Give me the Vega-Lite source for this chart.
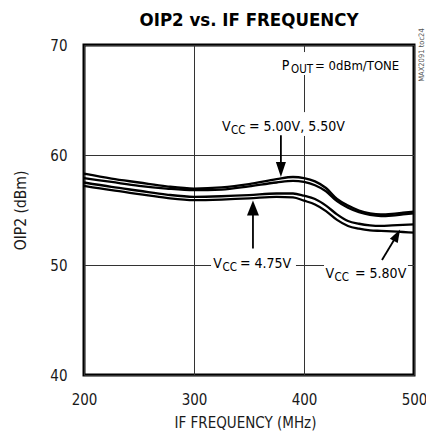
{
  "$schema": "https://vega.github.io/schema/vega-lite/v6.json",
  "width": 330,
  "height": 330,
  "autosize": "none",
  "padding": {"left": 84, "top": 45, "right": 12, "bottom": 62},
  "config": {
    "view": {"stroke": "black", "strokeWidth": 3},
    "axis": {"grid": true, "gridColor": "#333", "gridWidth": 1, "domain": false, "ticks": false, "tickSize": 0, "labelPadding": 17, "labelFontSize": 15, "labelFont": "DejaVu Sans Condensed, sans-serif", "labelColor": "#1a1a1a", "labelFlush": false, "titleFont": "DejaVu Sans Condensed, sans-serif", "titleFontSize": 15, "titleFontWeight": "normal", "titleColor": "#1a1a1a"}
  },
  "datasets": {
    "curves": [
      {"f":200,"v":58.3,"s":"5.50V"},{"f":225,"v":57.85,"s":"5.50V"},{"f":250,"v":57.5,"s":"5.50V"},{"f":275,"v":57.15,"s":"5.50V"},{"f":300,"v":56.95,"s":"5.50V"},{"f":325,"v":57.05,"s":"5.50V"},{"f":350,"v":57.35,"s":"5.50V"},{"f":375,"v":57.8,"s":"5.50V"},{"f":390,"v":58.0,"s":"5.50V"},{"f":400,"v":57.9,"s":"5.50V"},{"f":410,"v":57.6,"s":"5.50V"},{"f":420,"v":57.0,"s":"5.50V"},{"f":430,"v":56.0,"s":"5.50V"},{"f":440,"v":55.4,"s":"5.50V"},{"f":450,"v":54.95,"s":"5.50V"},{"f":460,"v":54.7,"s":"5.50V"},{"f":470,"v":54.6,"s":"5.50V"},{"f":480,"v":54.65,"s":"5.50V"},{"f":490,"v":54.75,"s":"5.50V"},{"f":500,"v":54.85,"s":"5.50V"},
      {"f":200,"v":57.9,"s":"5.00V"},{"f":225,"v":57.55,"s":"5.00V"},{"f":250,"v":57.2,"s":"5.00V"},{"f":275,"v":56.95,"s":"5.00V"},{"f":300,"v":56.8,"s":"5.00V"},{"f":325,"v":56.85,"s":"5.00V"},{"f":350,"v":57.15,"s":"5.00V"},{"f":375,"v":57.5,"s":"5.00V"},{"f":390,"v":57.65,"s":"5.00V"},{"f":400,"v":57.55,"s":"5.00V"},{"f":410,"v":57.25,"s":"5.00V"},{"f":420,"v":56.7,"s":"5.00V"},{"f":430,"v":55.8,"s":"5.00V"},{"f":440,"v":55.2,"s":"5.00V"},{"f":450,"v":54.8,"s":"5.00V"},{"f":460,"v":54.55,"s":"5.00V"},{"f":470,"v":54.45,"s":"5.00V"},{"f":480,"v":54.5,"s":"5.00V"},{"f":490,"v":54.6,"s":"5.00V"},{"f":500,"v":54.7,"s":"5.00V"},
      {"f":200,"v":57.5,"s":"4.75V"},{"f":225,"v":57.1,"s":"4.75V"},{"f":250,"v":56.75,"s":"4.75V"},{"f":275,"v":56.4,"s":"4.75V"},{"f":300,"v":56.2,"s":"4.75V"},{"f":325,"v":56.25,"s":"4.75V"},{"f":350,"v":56.35,"s":"4.75V"},{"f":375,"v":56.5,"s":"4.75V"},{"f":390,"v":56.5,"s":"4.75V"},{"f":400,"v":56.3,"s":"4.75V"},{"f":410,"v":56.0,"s":"4.75V"},{"f":420,"v":55.4,"s":"4.75V"},{"f":430,"v":54.6,"s":"4.75V"},{"f":440,"v":54.0,"s":"4.75V"},{"f":450,"v":53.75,"s":"4.75V"},{"f":460,"v":53.6,"s":"4.75V"},{"f":470,"v":53.55,"s":"4.75V"},{"f":480,"v":53.6,"s":"4.75V"},{"f":490,"v":53.65,"s":"4.75V"},{"f":500,"v":53.7,"s":"4.75V"},
      {"f":200,"v":57.2,"s":"5.80V"},{"f":225,"v":56.8,"s":"5.80V"},{"f":250,"v":56.45,"s":"5.80V"},{"f":275,"v":56.1,"s":"5.80V"},{"f":300,"v":55.9,"s":"5.80V"},{"f":325,"v":55.95,"s":"5.80V"},{"f":350,"v":56.05,"s":"5.80V"},{"f":375,"v":56.2,"s":"5.80V"},{"f":390,"v":56.15,"s":"5.80V"},{"f":400,"v":55.85,"s":"5.80V"},{"f":410,"v":55.5,"s":"5.80V"},{"f":420,"v":54.9,"s":"5.80V"},{"f":430,"v":54.1,"s":"5.80V"},{"f":440,"v":53.55,"s":"5.80V"},{"f":450,"v":53.3,"s":"5.80V"},{"f":460,"v":53.15,"s":"5.80V"},{"f":470,"v":53.1,"s":"5.80V"},{"f":480,"v":53.05,"s":"5.80V"},{"f":490,"v":53.0,"s":"5.80V"},{"f":500,"v":52.95,"s":"5.80V"}
    ],
    "masks": [
      {"f":396.4,"f2":403.6,"v":67.27,"v2":69.36},
      {"f":396.4,"f2":403.6,"v":61.73,"v2":63.9},
      {"f":315.5,"f2":392.7,"v":49.73,"v2":50.27},
      {"f":418.2,"f2":494.5,"v":49.73,"v2":50.27}
    ],
    "shafts": [
      {"f":379,"v":61.8,"f2":379,"v2":58.9},
      {"f":353.6,"v":51.5,"f2":353.6,"v2":54.6},
      {"f":470.9,"v":50.45,"f2":483.2,"v2":52.5}
    ],
    "heads": [
      {"f":379,"v":58.68,"h":"down"},
      {"f":353.6,"v":55.18,"h":"up"},
      {"f":484.5,"v":52.71,"h":"diag"}
    ],
    "labels": [
      {"f":379.7,"v":67.73,"t":"P","k":"main","g":"v"},
      {"f":388.2,"v":67.73,"t":"OUT","k":"sub","g":"p"},
      {"f":410.0,"v":67.73,"t":"= 0dBm/TONE","k":"main","g":"p"},
      {"f":325.5,"v":62.21,"t":"V","k":"main","g":"v"},
      {"f":333.6,"v":62.21,"t":"CC","k":"sub","g":"v"},
      {"f":350,"v":62.21,"t":"= 5.00V, 5.50V","k":"main","g":"v"},
      {"f":317.5,"v":49.7,"t":"V","k":"main","g":"v"},
      {"f":325.9,"v":49.7,"t":"CC","k":"sub","g":"v"},
      {"f":341.8,"v":49.7,"t":"= 4.75V","k":"main","g":"v"},
      {"f":419.5,"v":48.82,"t":"V","k":"main","g":"v"},
      {"f":427.7,"v":48.82,"t":"CC","k":"sub","g":"v"},
      {"f":446.4,"v":48.82,"t":"= 5.80V","k":"main","g":"v"}
    ],
    "heading": [{"f":350,"v":71.77,"t":"OIP2 vs. IF FREQUENCY"}],
    "tag": [{"f":507.3,"v":69.09,"t":"MAX2091 toc24"}]
  },
  "layer": [
    {
      "data": {"name": "masks"},
      "mark": {"type": "rect", "color": "white"},
      "encoding": {
        "x": {"field": "f", "type": "quantitative", "scale": {"domain": [200, 500]}, "axis": {"values": [200, 300, 400, 500], "title": "IF FREQUENCY (MHz)", "titleX": 161, "titleY": 52, "titleBaseline": "alphabetic"}},
        "x2": {"field": "f2"},
        "y": {"field": "v", "type": "quantitative", "scale": {"domain": [40, 70]}, "axis": {"values": [40, 50, 60, 70], "title": "OIP2 (dBm)", "titleX": -64, "titleY": 165, "titleBaseline": "middle", "titleFontSize": 15.5}},
        "y2": {"field": "v2"}
      }
    },
    {
      "data": {"name": "curves"},
      "mark": {"type": "line", "interpolate": "monotone", "color": "black", "strokeWidth": 2.3},
      "encoding": {
        "x": {"field": "f", "type": "quantitative"},
        "y": {"field": "v", "type": "quantitative"},
        "detail": {"field": "s"}
      }
    },
    {
      "data": {"name": "shafts"},
      "mark": {"type": "rule", "color": "black", "strokeWidth": 1.8},
      "encoding": {
        "x": {"field": "f", "type": "quantitative"},
        "y": {"field": "v", "type": "quantitative"},
        "x2": {"field": "f2"},
        "y2": {"field": "v2"}
      }
    },
    {
      "data": {"name": "heads"},
      "transform": [{"filter": "datum.h == 'down'"}],
      "mark": {"type": "point", "shape": "M-0.67,-1L0.67,-1L0,1Z", "size": 225, "filled": true, "color": "black", "opacity": 1, "strokeWidth": 0},
      "encoding": {"x": {"field": "f", "type": "quantitative"}, "y": {"field": "v", "type": "quantitative"}}
    },
    {
      "data": {"name": "heads"},
      "transform": [{"filter": "datum.h == 'up'"}],
      "mark": {"type": "point", "shape": "M-0.8,1L0.8,1L0,-1Z", "size": 225, "filled": true, "color": "black", "opacity": 1, "strokeWidth": 0},
      "encoding": {"x": {"field": "f", "type": "quantitative"}, "y": {"field": "v", "type": "quantitative"}}
    },
    {
      "data": {"name": "heads"},
      "transform": [{"filter": "datum.h == 'diag'"}],
      "mark": {"type": "point", "shape": "M-0.69,1L0.69,1L0,-1Z", "size": 169, "angle": 29, "filled": true, "color": "black", "opacity": 1, "strokeWidth": 0},
      "encoding": {"x": {"field": "f", "type": "quantitative"}, "y": {"field": "v", "type": "quantitative"}}
    },
    {
      "data": {"name": "labels"},
      "transform": [{"filter": "datum.k == 'main' && datum.g == 'v'"}],
      "mark": {"type": "text", "align": "left", "baseline": "alphabetic", "font": "DejaVu Sans Condensed, sans-serif", "fontSize": 14, "color": "black"},
      "encoding": {"x": {"field": "f", "type": "quantitative"}, "y": {"field": "v", "type": "quantitative"}, "text": {"field": "t"}}
    },
    {
      "data": {"name": "labels"},
      "transform": [{"filter": "datum.k == 'main' && datum.g == 'p'"}],
      "mark": {"type": "text", "align": "left", "baseline": "alphabetic", "font": "DejaVu Sans Condensed, sans-serif", "fontSize": 13, "color": "black"},
      "encoding": {"x": {"field": "f", "type": "quantitative"}, "y": {"field": "v", "type": "quantitative"}, "text": {"field": "t"}}
    },
    {
      "data": {"name": "labels"},
      "transform": [{"filter": "datum.k == 'sub'"}],
      "mark": {"type": "text", "align": "left", "baseline": "alphabetic", "dy": 3, "font": "DejaVu Sans Condensed, sans-serif", "fontSize": 11.5, "color": "black"},
      "encoding": {"x": {"field": "f", "type": "quantitative"}, "y": {"field": "v", "type": "quantitative"}, "text": {"field": "t"}}
    },
    {
      "data": {"name": "heading"},
      "mark": {"type": "text", "align": "center", "baseline": "alphabetic", "font": "DejaVu Sans Condensed, sans-serif", "fontSize": 18.5, "fontWeight": "bold", "color": "black"},
      "encoding": {"x": {"field": "f", "type": "quantitative"}, "y": {"field": "v", "type": "quantitative"}, "text": {"field": "t"}}
    },
    {
      "data": {"name": "tag"},
      "mark": {"type": "text", "align": "center", "baseline": "middle", "angle": 270, "font": "DejaVu Sans Condensed, sans-serif", "fontSize": 7.5, "color": "#555"},
      "encoding": {"x": {"field": "f", "type": "quantitative"}, "y": {"field": "v", "type": "quantitative"}, "text": {"field": "t"}}
    }
  ]
}
